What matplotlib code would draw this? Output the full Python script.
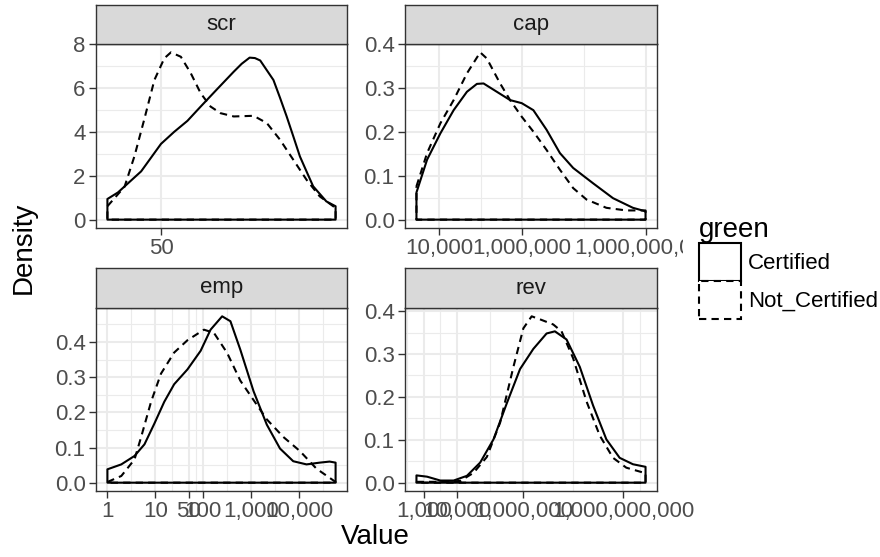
import numpy as np
import matplotlib
matplotlib.use("Agg")
import matplotlib.pyplot as plt
from matplotlib.patches import Patch
from matplotlib.transforms import Bbox, TransformedBbox

plt.rcParams['font.family'] = ['Liberation Sans', 'DejaVu Sans']

# density curves; x is log10(Value), y is density
scr_cert_x = [1.6075, 1.6255, 1.6649, 1.6986, 1.7211, 1.7436, 1.7661, 1.7943, 1.8224, 1.8359,
              1.8494, 1.8584, 1.8674, 1.8899, 1.9011, 1.9124, 1.9236, 1.9349, 1.9461, 1.9574,
              1.9799, 1.9956]
scr_cert_y = [0.94, 1.24, 2.20, 3.45, 4.00, 4.50, 5.15, 5.95, 6.74, 7.10,
              7.38, 7.36, 7.25, 6.36, 5.55, 4.70, 3.80, 2.88, 2.20, 1.52,
              0.83, 0.61]
scr_nc_x = [1.6075, 1.6367, 1.6536, 1.6705, 1.6874, 1.7043, 1.7155, 1.7324, 1.7493, 1.7661,
            1.7830, 1.7999, 1.8224, 1.8561, 1.8786, 1.9011, 1.9236, 1.9461, 1.9686, 1.9956]
scr_nc_y = [0.61, 1.50, 2.90, 4.60, 6.36, 7.35, 7.62, 7.42, 6.67, 5.76,
            5.15, 4.85, 4.70, 4.73, 4.40, 3.64, 2.73, 1.82, 1.06, 0.53]

cap_cert_x = [3.444, 3.702, 4.024, 4.346, 4.668, 4.910, 5.071, 5.393, 5.715,
              5.997, 6.279, 6.601, 6.923, 7.245, 7.728, 8.211, 8.694, 9.0]
cap_cert_y = [0.062, 0.137, 0.197, 0.250, 0.292, 0.310, 0.311, 0.292, 0.273,
              0.266, 0.250, 0.205, 0.152, 0.118, 0.083, 0.049, 0.027, 0.019]
cap_nc_x = [3.444, 3.702, 4.024, 4.346, 4.668, 4.990, 5.151, 5.473, 5.715,
            5.997, 6.279, 6.601, 6.923, 7.245, 7.567, 8.050, 8.533, 9.0]
cap_nc_y = [0.076, 0.152, 0.220, 0.273, 0.334, 0.382, 0.368, 0.311, 0.273,
            0.235, 0.201, 0.159, 0.114, 0.072, 0.046, 0.027, 0.021, 0.021]

emp_cert_x = [0.0, 0.290, 0.566, 0.774, 0.981, 1.188, 1.395, 1.672, 1.948, 2.155, 2.397,
              2.570, 2.777, 3.053, 3.330, 3.606, 3.882, 4.159, 4.435, 4.642, 4.767]
emp_cert_y = [0.038, 0.052, 0.076, 0.109, 0.168, 0.230, 0.280, 0.322, 0.375, 0.435, 0.473,
              0.459, 0.378, 0.260, 0.165, 0.097, 0.061, 0.052, 0.057, 0.060, 0.057]
emp_nc_x = [0.0, 0.290, 0.566, 0.705, 0.912, 1.119, 1.395, 1.672, 2.017,
            2.225, 2.501, 2.777, 3.053, 3.330, 3.675, 4.021, 4.366, 4.767]
emp_nc_y = [0.002, 0.019, 0.066, 0.130, 0.230, 0.310, 0.370, 0.405, 0.435,
            0.426, 0.369, 0.290, 0.235, 0.180, 0.130, 0.090, 0.040, 0.002]

rev_cert_x = [2.78, 3.10, 3.50, 3.90, 4.30, 4.70, 5.10, 5.50, 5.90, 6.30,
              6.70, 6.95, 7.30, 7.70, 8.10, 8.50, 8.90, 9.30, 9.68]
rev_cert_y = [0.017, 0.014, 0.005, 0.005, 0.016, 0.047, 0.101, 0.185, 0.265, 0.312,
              0.348, 0.353, 0.334, 0.270, 0.180, 0.101, 0.058, 0.043, 0.037]
rev_nc_x = [2.78, 3.50, 4.10, 4.50, 4.90, 5.30, 5.70, 6.00, 6.25,
            6.50, 6.90, 7.15, 7.50, 7.90, 8.30, 8.70, 9.10, 9.68]
rev_nc_y = [0.002, 0.002, 0.004, 0.023, 0.060, 0.140, 0.270, 0.360, 0.388,
            0.381, 0.369, 0.353, 0.290, 0.190, 0.110, 0.058, 0.035, 0.022]

facets = ["scr", "cap", "emp", "rev"]
groups = ["Certified", "Not_Certified"]

# axis breaks (x in real units, shown on a log10 axis)
scr_xbreaks = [50]
cap_xbreaks = [1e4, 1e6, 1e9]
emp_xbreaks = [1, 10, 50, 100, 1000, 10000]
rev_xbreaks = [1e3, 1e4, 1e6, 1e9]
scr_ybreaks = [0, 2, 4, 6, 8]
dens_ybreaks = [0.0, 0.1, 0.2, 0.3, 0.4]

curves = {
    "scr": [(scr_cert_x, scr_cert_y), (scr_nc_x, scr_nc_y)],
    "cap": [(cap_cert_x, cap_cert_y), (cap_nc_x, cap_nc_y)],
    "emp": [(emp_cert_x, emp_cert_y), (emp_nc_x, emp_nc_y)],
    "rev": [(rev_cert_x, rev_cert_y), (rev_nc_x, rev_nc_y)],
}
xbreaks = {"scr": scr_xbreaks, "cap": cap_xbreaks, "emp": emp_xbreaks, "rev": rev_xbreaks}
ybreaks = {"scr": scr_ybreaks, "cap": dens_ybreaks, "emp": dens_ybreaks, "rev": dens_ybreaks}

# ggplot-ish theme_bw colours
GREY10 = "#1A1A1A"
GREY20 = "#333333"
GREY30 = "#4D4D4D"
GREY85 = "#D9D9D9"
GREY92 = "#EBEBEB"
DASH = (0, (3.5, 2.5))
linestyles = ["-", DASH]

W, H = 880, 557
# panel boxes in pixels: (left, right, top of strip, top of panel, bottom of panel)
boxes = {
    "scr": (96, 347, 5, 44, 228),
    "cap": (405, 657, 5, 44, 228),
    "emp": (96, 347, 268, 308, 491),
    "rev": (405, 657, 268, 308, 491),
}


def minor_breaks(b, lo, hi):
    # same idea as ggplot's regular_minor_breaks: midpoints, extended by one step
    b = list(b)
    if len(b) < 2:
        return []
    d = b[1] - b[0]
    if lo < b[0]:
        b = [b[0] - d] + b
    if hi > b[-1]:
        b = b + [b[-1] + d]
    mids = [(b[i] + b[i + 1]) / 2 for i in range(len(b) - 1)]
    return [m for m in mids if lo <= m <= hi]


fig = plt.figure(figsize=(W / 100, H / 100), dpi=100)

for name in facets:
    l, r, st, pt, pb = boxes[name]
    ax = fig.add_axes([l / W, 1 - pb / H, (r - l) / W, (pb - pt) / H])
    sax = fig.add_axes([l / W, 1 - pt / H, (r - l) / W, (pt - st) / H])

    # strip
    sax.set_facecolor(GREY85)
    sax.set_xticks([])
    sax.set_yticks([])
    for sp in sax.spines.values():
        sp.set_color(GREY20)
        sp.set_linewidth(1.0)
    sax.text(0.5, 0.5, name, ha="center", va="center", fontsize=16, color=GREY10,
             transform=sax.transAxes)

    # density polygons, closed along the baseline like geom_density
    for (cx, cy), ls in zip(curves[name], linestyles):
        px = list(cx) + [cx[-1], cx[0]]
        py = list(cy) + [0, 0]
        ax.fill(px, py, facecolor="none", edgecolor="black", lw=1.5, linestyle=ls,
                zorder=3, joinstyle="round")

    ax.margins(x=0.05, y=0.05)
    x0, x1 = ax.get_xlim()
    y0, y1 = ax.get_ylim()

    xb = np.log10(xbreaks[name])
    ax.set_xticks(xb)
    ax.set_xticklabels([f"{v:,.0f}" for v in xbreaks[name]])
    ax.set_xticks(minor_breaks(xb, x0, x1), minor=True)

    yb = ybreaks[name]
    ax.set_yticks(yb)
    if name == "scr":
        ax.set_yticklabels([f"{v:g}" for v in yb])
    else:
        ax.set_yticklabels([f"{v:.1f}" for v in yb])
    ax.set_yticks(minor_breaks(yb, y0, y1), minor=True)
    ax.set_xlim(x0, x1)
    ax.set_ylim(y0, y1)

    ax.grid(which="major", color=GREY92, lw=1.5, zorder=0)
    ax.grid(which="minor", color=GREY92, lw=0.8, zorder=0)
    ax.set_axisbelow(True)
    ax.tick_params(which="major", length=5, width=1.0, color=GREY20,
                   labelcolor=GREY30, labelsize=16, pad=2.5)
    ax.tick_params(which="minor", length=0)
    for sp in ax.spines.values():
        sp.set_color(GREY20)
        sp.set_linewidth(1.0)

    if name == "cap":
        # long last label runs into the legend area and gets cut, as in ggplot
        clip = TransformedBbox(Bbox.from_extents(0, 0, 683 / W, 1), fig.transFigure)
        for t in ax.xaxis.get_major_ticks():
            t.label1.set_clip_on(True)
            t.label1.set_clip_box(clip)

fig.text(24 / W, 1 - 248 / H, "Density", rotation=90, ha="center", va="center", fontsize=20)
fig.text(375 / W, 1 - 537 / H, "Value", ha="center", va="center", fontsize=20)

handles = [Patch(facecolor="white", edgecolor="black", lw=1.5, linestyle=ls) for ls in linestyles]
fig.legend(handles, groups, title="green", loc="upper left",
           bbox_to_anchor=(699 / W, 1 - 217 / H), frameon=False, fontsize=16,
           title_fontsize=20, handlelength=1.9, handleheight=2.25, labelspacing=0,
           handletextpad=0.3, borderpad=0, borderaxespad=0, alignment="left")

fig.savefig("out.png", dpi=100)
